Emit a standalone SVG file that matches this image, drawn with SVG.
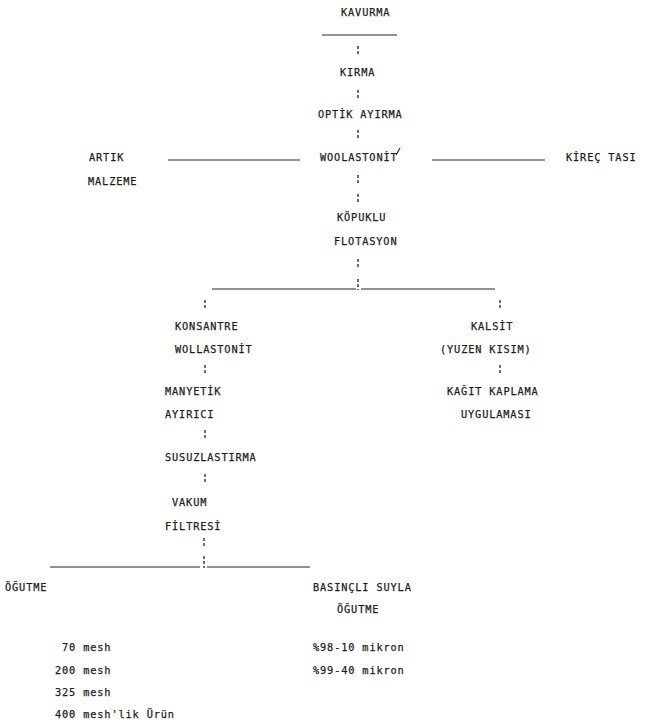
<svg xmlns="http://www.w3.org/2000/svg" width="649" height="725" viewBox="0 0 649 725">
<style>
  text { font-family: "DejaVu Sans Mono", "Liberation Mono", monospace; font-size: 10.3px; letter-spacing: 0.85px; fill: #1e1e1e; stroke: #1e1e1e; stroke-width: 0.25px; }
  .ln { stroke: #262626; stroke-width: 1.2; fill: none; }
  .dt { stroke: #333; stroke-width: 1.4; fill: none; stroke-dasharray: 3 2; }
</style>
<rect width="649" height="725" fill="#ffffff"/>
<g id="connectors">
  <line class="ln" x1="322" y1="35" x2="397" y2="35"/>
  <line class="dt" x1="358" y1="46" x2="358" y2="54"/>
  <line class="dt" x1="358" y1="90" x2="358" y2="98"/>
  <line class="dt" x1="358" y1="130" x2="358" y2="138"/>
  <line class="ln" x1="168" y1="160" x2="300" y2="160"/>
  <line class="ln" x1="432" y1="160" x2="545" y2="160"/>
  <line class="dt" x1="358" y1="175" x2="358" y2="183"/>
  <line class="dt" x1="358" y1="194" x2="358" y2="202"/>
  <line class="dt" x1="358" y1="259" x2="358" y2="267"/>
  <line class="dt" x1="358" y1="279" x2="358" y2="290"/>
  <line class="ln" x1="212" y1="289" x2="356" y2="289"/>
  <line class="ln" x1="361" y1="289" x2="495" y2="289"/>
  <line class="dt" x1="205" y1="300" x2="205" y2="308"/>
  <line class="dt" x1="500" y1="300" x2="500" y2="308"/>
  <line class="dt" x1="205" y1="365" x2="205" y2="373"/>
  <line class="dt" x1="500" y1="365" x2="500" y2="373"/>
  <line class="dt" x1="205" y1="430" x2="205" y2="438"/>
  <line class="dt" x1="205" y1="474" x2="205" y2="482"/>
  <line class="dt" x1="204" y1="538" x2="204" y2="546"/>
  <line class="dt" x1="204" y1="556" x2="204" y2="568"/>
  <line class="ln" x1="50" y1="567" x2="200" y2="567"/>
  <line class="ln" x1="207" y1="567" x2="310" y2="567"/>
  <line class="ln" x1="396" y1="155" x2="400" y2="148" stroke-width="0.7"/>
</g>
<g id="n-kavurma"><text x="341" y="16">KAVURMA</text></g>
<g id="n-kirma"><text x="340" y="76">KIRMA</text></g>
<g id="n-optik"><text x="318" y="118">OPTİK AYIRMA</text></g>
<g id="n-artik"><text x="89" y="161">ARTIK</text><text x="88" y="185">MALZEME</text></g>
<g id="n-woolastonit"><text x="320" y="161">WOOLASTONİT</text></g>
<g id="n-kirec"><text x="566" y="161">KİREÇ TASI</text></g>
<g id="n-kopuklu"><text x="337" y="221">KÖPUKLU</text><text x="334" y="245">FLOTASYON</text></g>
<g id="n-konsantre"><text x="175" y="330">KONSANTRE</text><text x="175" y="353">WOLLASTONİT</text></g>
<g id="n-kalsit"><text x="471" y="330">KALSİT</text><text x="440" y="353">(YUZEN KISIM)</text></g>
<g id="n-manyetik"><text x="165" y="395">MANYETİK</text><text x="165" y="418">AYIRICI</text></g>
<g id="n-kagit"><text x="447" y="395">KAĞIT KAPLAMA</text><text x="461" y="418">UYGULAMASI</text></g>
<g id="n-susuz"><text x="165" y="461">SUSUZLASTIRMA</text></g>
<g id="n-vakum"><text x="172" y="506">VAKUM</text><text x="165" y="530">FİLTRESİ</text></g>
<g id="n-ogutme"><text x="5" y="591">ÖĞUTME</text></g>
<g id="n-basincli"><text x="313" y="591">BASINÇLI SUYLA</text><text x="337" y="613">ÖĞUTME</text></g>
<g id="n-mesh">
  <text x="62" y="651">70 mesh</text>
  <text x="55" y="674">200 mesh</text>
  <text x="55" y="696">325 mesh</text>
  <text x="55" y="718">400 mesh'lik Ürün</text>
</g>
<g id="n-mikron">
  <text x="313" y="651">%98-10 mikron</text>
  <text x="313" y="674">%99-40 mikron</text>
</g>
</svg>
